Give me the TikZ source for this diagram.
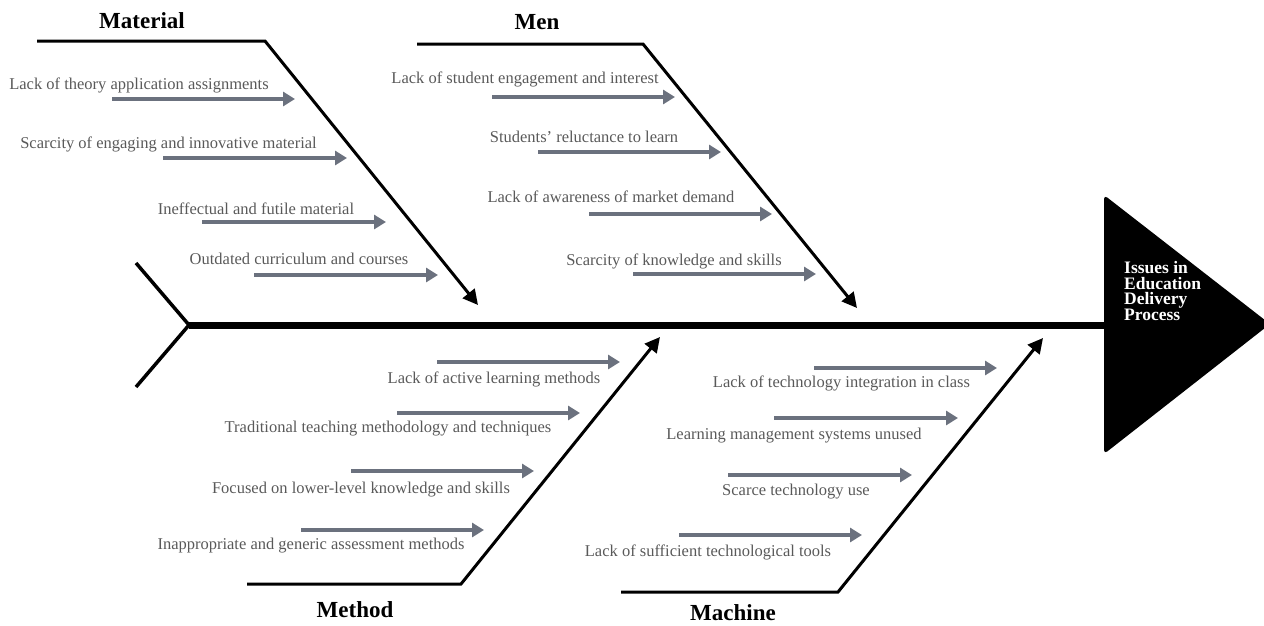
\documentclass[tikz,border=0pt]{standalone}
\usepackage{fontspec}
\setmainfont{Liberation Serif}
\usetikzlibrary{arrows.meta}
\definecolor{causegrey}{HTML}{6B717E}
\definecolor{txtgrey}{HTML}{595959}
\begin{document}
\begin{tikzpicture}[x=1pt,y=-1pt,
  bone/.style={line width=3pt, line join=miter},
  bonearrow/.style={bone, -{Triangle[length=15pt,width=15pt]}},
  spine/.style={line width=7pt},
  cause/.style={line width=3.5pt, draw=causegrey, -{Triangle[length=12pt,width=14pt]}},
  causetext/.style={text=txtgrey, font=\fontsize{16.5}{18}\selectfont, inner sep=0pt, anchor=base},
  category/.style={font=\bfseries\fontsize{23}{26}\selectfont, inner sep=0pt, anchor=base},
  headtext/.style={text=white, font=\bfseries\fontsize{17.5}{15.5}\selectfont, align=left, inner sep=0pt, anchor=west},
]
\useasboundingbox (0,0) rectangle (1264,625);

% fish head and spine
\fill[rounded corners=4pt] (1104,195) -- (1270,324) -- (1104,454) -- cycle;
\node[headtext] (effect) at (1124,291) {Issues in\\Education\\Delivery\\Process};
\coordinate (tail) at (189,325);
\coordinate (head) at (1104,325);
\draw[spine] (tail) -- (head);

% tail fin
\coordinate (tailtop) at (136,263);
\coordinate (tailbot) at (136,387);
\draw[bone, line width=3.5pt] (tailtop) -- (tail) -- (tailbot);

% main bones
\coordinate (matA) at (37,41);   \coordinate (matB) at (265,41);  \coordinate (matTip) at (478,305);
\coordinate (menA) at (417,44);  \coordinate (menB) at (643,44);  \coordinate (menTip) at (857,308);
\coordinate (metA) at (247,584); \coordinate (metB) at (461,584); \coordinate (metTip) at (660,337);
\coordinate (macA) at (621,592); \coordinate (macB) at (838,592); \coordinate (macTip) at (1043,338);
\draw[bonearrow] (matA) -- (matB) -- (matTip);
\draw[bonearrow] (menA) -- (menB) -- (menTip);
\draw[bonearrow] (metA) -- (metB) -- (metTip);
\draw[bonearrow] (macA) -- (macB) -- (macTip);

% category labels
\node[category] (material) at (142,28) {Material};
\node[category] (men) at (537,29) {Men};
\node[category] (method) at (355,617) {Method};
\node[category] (machine) at (733,620) {Machine};

% causes: start x, end x, arrow y, text centre x, text baseline y, text
\foreach \n/\sx/\ex/\ay/\tx/\ty/\txt in {
  m1/112/295/99/139/89/{Lack of theory application assignments},
  m2/163/347/158/168.5/148/{Scarcity of engaging and innovative material},
  m3/202/386/222/256/214/{Ineffectual and futile material},
  m4/254/438/275/299/264/{Outdated curriculum and courses},
  p1/492/675/97/525/83/{Lack of student engagement and interest},
  p2/538/721/152/584/142/{Students’ reluctance to learn},
  p3/589/772/214/611/202/{Lack of awareness of market demand},
  p4/633/816/274/674/265/{Scarcity of knowledge and skills},
  t1/437/620/362/494/383/{Lack of active learning methods},
  t2/397/580/413/388/432/{Traditional teaching methodology and techniques},
  t3/351/534/471/361/493/{Focused on lower-level knowledge and skills},
  t4/301/484/530/311/549/{Inappropriate and generic assessment methods},
  k1/814/997/368/841.5/387/{Lack of technology integration in class},
  k2/774/958/418/794/439/{Learning management systems unused},
  k3/728/912/475/796/495/{Scarce technology use},
  k4/679/862/535/708/556/{Lack of sufficient technological tools}} {
  \coordinate (\n s) at (\sx,\ay);
  \coordinate (\n e) at (\ex,\ay);
  \draw[cause] (\n s) -- (\n e);
  \node[causetext] (\n t) at (\tx,\ty) {\txt};
}
\end{tikzpicture}
\end{document}
